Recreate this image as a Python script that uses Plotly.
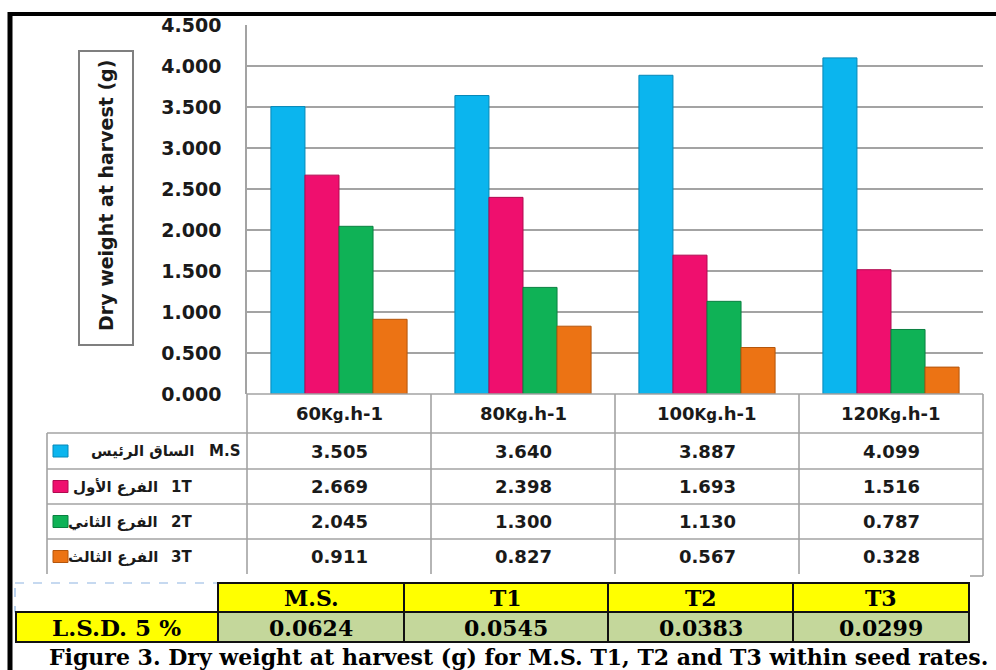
import plotly.graph_objects as go

# ---- data -------------------------------------------------------------
rates = ["60", "80", "100", "120"]
rate_unit = "Kg.h-1"
series_codes = ["M.S", "1T", "2T", "3T"]
series_names = ["الساق الرئيس", "الفرع الأول", "الفرع الثاني", "الفرع الثالث"]
ms_vals = [3.505, 3.640, 3.887, 4.099]
t1_vals = [2.669, 2.398, 1.693, 1.516]
t2_vals = [2.045, 1.300, 1.130, 0.787]
t3_vals = [0.911, 0.827, 0.567, 0.328]
y_ticks = [0, 0.5, 1.0, 1.5, 2.0, 2.5, 3.0, 3.5, 4.0, 4.5]
lsd_heads = ["M.S.", "T1", "T2", "T3"]
lsd_vals = ["0.0624", "0.0545", "0.0383", "0.0299"]
lsd_label = "L.S.D. 5 %"
y_title = "Dry weight at harvest (g)"
caption = "Figure 3. Dry weight at harvest (g) for M.S. T1, T2 and T3 within seed rates."

series_vals = [ms_vals, t1_vals, t2_vals, t3_vals]
fills = ["#0BB5EE", "#EF0F6E", "#0FB256", "#EC7314"]
edges = ["#0688B8", "#B00A50", "#0A8040", "#B4560C"]

# ---- page geometry (pixels) -------------------------------------------
W, H = 996, 670
L, R, T, B = 247, 983, 25, 394


def px(x):
    return (x - L) / (R - L)


def py(y):
    return (B - y) / (B - T)


categories = [r + rate_unit for r in rates]

fig = go.Figure()
for code, vals, fc, ec in zip(series_codes, series_vals, fills, edges):
    fig.add_trace(go.Bar(
        x=categories, y=vals, name=code,
        marker=dict(color=fc, line=dict(color=ec, width=1)),
        showlegend=False, hoverinfo="x+y",
    ))

shapes = []
annotations = []
GRID = "#A3A3A3"
TXT = "#1A1A1A"
SANS = "DejaVu Sans"
SERIF = "DejaVu Serif"


def hline(y, x0, x1, color=GRID, width=1.6, dash=None, xref="paper"):
    shapes.append(dict(type="line", xref=xref, yref="paper",
                       x0=x0, x1=x1, y0=py(y), y1=py(y),
                       line=dict(color=color, width=width, dash=dash)))


def vline(x, y0, y1, color=GRID, width=1.6, xref="paper"):
    shapes.append(dict(type="line", xref=xref, yref="paper",
                       x0=x, x1=x, y0=py(y0), y1=py(y1),
                       line=dict(color=color, width=width)))


def text(x, y, s, size, family=SANS, xanchor="center", xref="paper", color=TXT, angle=0):
    annotations.append(dict(x=x, y=py(y), xref=xref, yref="paper", text=s,
                            showarrow=False, xanchor=xanchor, yanchor="middle",
                            textangle=angle,
                            font=dict(family=family, size=size, color=color)))


# outer black frame
shapes.append(dict(type="line", xref="paper", yref="paper", x0=px(8), x1=px(1000),
                   y0=py(14), y1=py(14), line=dict(color="black", width=4)))
shapes.append(dict(type="line", xref="paper", yref="paper", x0=px(10), x1=px(10),
                   y0=py(12), y1=py(675), line=dict(color="black", width=5)))

# y-axis title box
shapes.append(dict(type="rect", xref="paper", yref="paper",
                   x0=px(79), x1=px(133), y0=py(51), y1=py(345),
                   line=dict(color="#7F7F7F", width=2)))
text(px(106), 196, "<b>" + y_title + "</b>", 19, angle=-90)

# data table grid
row_edges = [394, 433, 469, 504, 539, 574]
hline(394, -0.5, 3.5, xref="x")
for y in row_edges[1:-1]:
    hline(y, px(47), 1)
vline(px(47), 433, 574)
vline(px(247), 394, 574)
for i in range(1, 4):
    vline(i - 0.5, 394, 574, xref="x")
vline(1, 394, 576)
hline(576, px(970), 1)

# category header row
for r, c in zip(rates, categories):
    text(c, 413.5, "<b>" + r + "<span style='font-size:15px'>Kg</span>.h-1</b>",
         18, xref="x")

# value rows with legend keys
row_centers = [(row_edges[k] + row_edges[k + 1]) / 2 for k in range(1, 5)]
for k, (code, name, vals, fc, ec) in enumerate(
        zip(series_codes, series_names, series_vals, fills, edges)):
    yc = row_centers[k]
    for c, v in zip(categories, vals):
        text(c, yc, "<b>%.3f</b>" % v, 18, xref="x")
    shapes.append(dict(type="rect", xref="paper", yref="paper",
                       x0=px(53), x1=px(68), y0=py(yc - 6), y1=py(yc + 6),
                       fillcolor=fc, line=dict(color=ec, width=1)))
    if k == 0:
        text(px(242), yc, "<b>" + code + "</b>", 15, xanchor="right")
        text(px(196), yc, "<b>" + name + "</b>", 15, xanchor="right")
    else:
        text(px(194), yc, "<b>" + code + "</b>", 15, xanchor="right")
        text(px(160), yc, "<b>" + name + "</b>", 15, xanchor="right")

# L.S.D. table
lsd_cols = [218, 404, 608, 793, 969]
shapes.append(dict(type="rect", xref="paper", yref="paper",
                   x0=px(15), x1=px(218), y0=py(583), y1=py(612),
                   line=dict(color="#8DB4E2", width=1.2, dash="dash")))
for j in range(4):
    shapes.append(dict(type="rect", xref="paper", yref="paper",
                       x0=px(lsd_cols[j]), x1=px(lsd_cols[j + 1]),
                       y0=py(583), y1=py(612), fillcolor="#FFFF00",
                       line=dict(color="#111111", width=2)))
    shapes.append(dict(type="rect", xref="paper", yref="paper",
                       x0=px(lsd_cols[j]), x1=px(lsd_cols[j + 1]),
                       y0=py(612), y1=py(642), fillcolor="#C4D79B",
                       line=dict(color="#111111", width=2)))
    xc = px((lsd_cols[j] + lsd_cols[j + 1]) / 2)
    text(xc, 598, "<b>" + lsd_heads[j] + "</b>", 22, family=SERIF, color="black")
    text(xc, 627.5, "<b>" + lsd_vals[j] + "</b>", 22, family=SERIF, color="black")
shapes.append(dict(type="rect", xref="paper", yref="paper",
                   x0=px(16), x1=px(218), y0=py(612), y1=py(642),
                   fillcolor="#FFFF00", line=dict(color="#111111", width=2)))
text(px(116), 627.5, "<b>" + lsd_label + "</b>", 23, family=SERIF, color="black")

# caption
text(px(47), 657, "<b>" + caption + "</b>", 22, family=SERIF,
     xanchor="left", color="black")

fig.update_layout(
    width=W, height=H,
    margin=dict(l=L, r=W - R, t=T, b=H - B, pad=0),
    paper_bgcolor="white", plot_bgcolor="white",
    barmode="group", bargap=0.26, bargroupgap=0.0,
    showlegend=False,
    shapes=shapes, annotations=annotations,
    xaxis=dict(range=[-0.5, 3.5], showticklabels=False, showgrid=False,
               zeroline=False, showline=False, ticks=""),
    yaxis=dict(range=[0, 4.5], tickvals=y_ticks, tickformat=".3f",
               showgrid=True, gridcolor=GRID, gridwidth=1.6,
               zeroline=False, showline=True, linecolor=GRID, linewidth=1.6,
               ticks="", ticklabelstandoff=20,
               tickfont=dict(family=SANS, size=19, color=TXT, weight="bold")),
)

fig.write_html("out.html")
